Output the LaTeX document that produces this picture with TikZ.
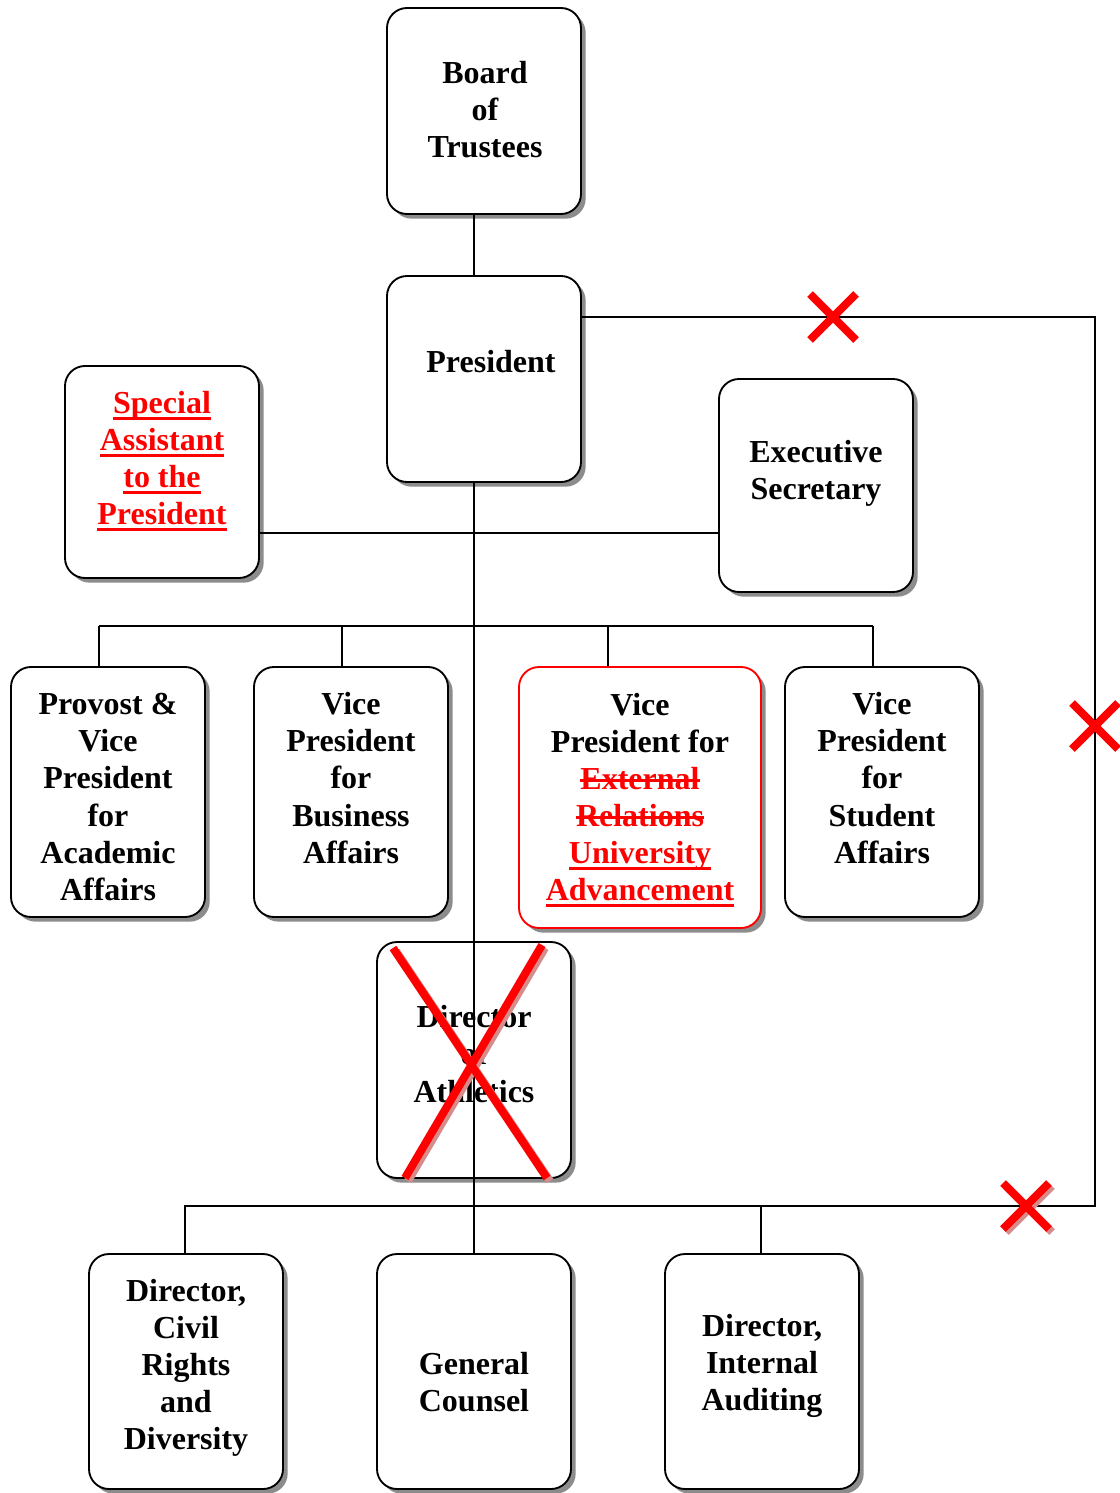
\documentclass[tikz,border=0pt]{standalone}
\usepackage{fontspec}
\setmainfont{Liberation Serif}
\usetikzlibrary{shadows,fit}
\newsavebox{\mylinebox}
\newcommand{\rul}[1]{\sbox{\mylinebox}{#1}\rlap{\usebox{\mylinebox}}\rule[-5pt]{\wd\mylinebox}{2.1pt}}
\newcommand{\rst}[1]{\sbox{\mylinebox}{#1}\rlap{\usebox{\mylinebox}}\rule[5.8pt]{\wd\mylinebox}{2.1pt}}
\begin{document}
\begin{tikzpicture}[x=0.75pt,y=-0.75pt,
  box/.style={draw, line width=1.4pt, rounded corners=15pt, fill=white, inner sep=0pt,
    drop shadow={shadow xshift=3.5pt, shadow yshift=-3.5pt, fill=black, opacity=0.45}},
  redbox/.style={box, draw=red},
  lbl/.style={font=\bfseries\fontsize{24}{27.8}\selectfont, align=center, inner sep=0pt},
  redlbl/.style={lbl, text=red},
  conn/.style={line width=1.4pt},
  redx/.style={draw=red, line width=6pt},
  redxs/.style={draw=black!35!red!45, line width=6pt}
]
\useasboundingbox[fill=white] (0,0) rectangle (1120,1493);

% boxes
\node[box, fit={(387,8) (581,214)}] (board) {};
\node[box, fit={(387,276) (581,482)}] (pres) {};
\node[box, fit={(65,366) (259,578)}] (spa) {};
\node[box, fit={(719,379) (913,592)}] (exec) {};
\node[box, fit={(11,667) (205,917)}] (prov) {};
\node[box, fit={(254,667) (448,917)}] (vpb) {};
\node[redbox, fit={(519,667) (761,928)}] (vpa) {};
\node[box, fit={(785,667) (979,917)}] (vps) {};
\node[box, fit={(377,942) (571,1178)}] (ath) {};
\node[box, fit={(89,1254) (283,1489)}] (civ) {};
\node[box, fit={(377,1254) (571,1489)}] (gc) {};
\node[box, fit={(665,1254) (859,1489)}] (aud) {};

% texts
\node[lbl] (tboard) at (485,110) {Board\\of\\Trustees};
\node[lbl] (tpres) at (491,362) {President};
\node[redlbl] (tspa) at (162,461) {\rul{Special}\\\rul{Assistant}\\\rul{to the}\\\rul{President}};
\node[lbl] (texec) at (816,473) {Executive\\Secretary};
\node[lbl] (tprov) at (108,797) {Provost \&\\Vice\\President\\for\\Academic\\Affairs};
\node[lbl] (tvpb) at (351,778) {Vice\\President\\for\\Business\\Affairs};
\node[lbl] (tvpa) at (640,800) {Vice\\President for\\\textcolor{red}{\rst{External}}\\\textcolor{red}{\rst{Relations}}\\\textcolor{red}{\rul{University}}\\\textcolor{red}{\rul{Advancement}}};
\node[lbl] (tvps) at (882,778) {Vice\\President\\for\\Student\\Affairs};
\node[lbl] (tath) at (474,1054) {Director\\of\\Athletics};
\node[lbl] (tciv) at (186,1368) {Director,\\Civil\\Rights\\and\\Diversity};
\node[lbl] (tgc) at (474,1382) {General\\Counsel};
\node[lbl] (taud) at (762,1366) {Director,\\Internal\\Auditing};

% connector coordinates
\coordinate (sp) at (474,0);
\coordinate (rt) at (1095,317);
\coordinate (rb) at (1095,1206);
\coordinate (bl) at (185,1206);
\coordinate (bm) at (761,1206);
\coordinate (m1) at (0,533);
\coordinate (h1) at (99,626);
\coordinate (h2) at (342,626);
\coordinate (h3) at (608,626);
\coordinate (h4) at (873,626);

% connectors
\draw[conn] (board.south -| sp) -- (pres.north -| sp);
\draw[conn] (pres.east |- rt) -- (rt) -- (rb) -- (bl) -- (civ.north -| bl);
\draw[conn] (bm) -- (aud.north -| bm);
\draw[conn] (pres.south -| sp) -- (gc.north -| sp);
\draw[conn] (spa.east |- m1) -- (exec.west |- m1);
\draw[conn] (h1) -- (h4);
\draw[conn] (h1) -- (prov.north -| h1);
\draw[conn] (h2) -- (vpb.north -| h2);
\draw[conn] (h3) -- (vpa.north -| h3);
\draw[conn] (h4) -- (vps.north -| h4);

% red crosses
\draw[redx] (810,294) -- (856,340) (856,294) -- (810,340);
\draw[redx] (1072,703) -- (1118,749) (1118,703) -- (1072,749);
\draw[redxs] (1006,1186) -- (1052,1232) (1052,1186) -- (1006,1232);
\draw[redx] (1003,1183) -- (1049,1229) (1049,1183) -- (1003,1229);
\draw[redxs] (396,951) -- (550,1181) (545,948) -- (408,1181);
\draw[redx] (393,948) -- (547,1178) (542,945) -- (405,1178);
\end{tikzpicture}
\end{document}
